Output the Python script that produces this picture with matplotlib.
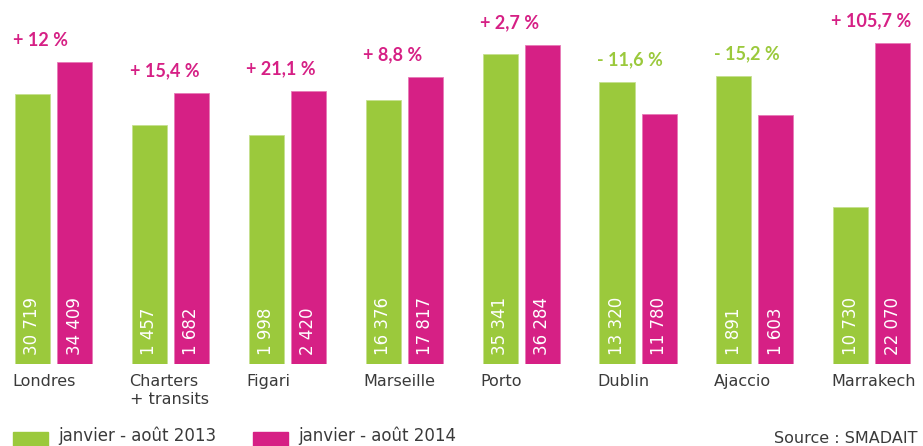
import numpy as np
import matplotlib.pyplot as plt
from matplotlib.patches import Rectangle

cities = ['Londres', 'Charters\n+ transits', 'Figari', 'Marseille', 'Porto', 'Dublin', 'Ajaccio', 'Marrakech']
pax_2013 = [30719, 1457, 1998, 16376, 35341, 13320, 1891, 10730]
pax_2014 = [34409, 1682, 2420, 17817, 36284, 11780, 1603, 22070]
evolution = ['+ 12 %', '+ 15,4 %', '+ 21,1 %', '+ 8,8 %', '+ 2,7 %', '- 11,6 %', '- 15,2 %', '+ 105,7 %']
# bar heights as drawn in the original (each city has its own scale)
height_2013 = [270, 239, 229, 264, 310, 282, 288, 157]
height_2014 = [302, 271, 273, 287, 319, 250, 249, 321]

green = '#9bc93c'
magenta = '#d62085'
grey = '#3a3a3a'

fig = plt.figure(figsize=(9.23, 4.46), dpi=100)
ax = fig.add_axes([0, 82 / 446, 1, 364 / 446])
ax.set_xlim(-0.458, 7.438)
ax.set_ylim(0, 364)
ax.axis('off')

x = np.arange(len(cities))
w = 0.30
off = 0.18
ax.bar(x - off, height_2013, w, color=green, edgecolor='#c6e08f', linewidth=0.6)
ax.bar(x + off, height_2014, w, color=magenta, edgecolor='#e77ab7', linewidth=0.6)

fmt = lambda v: f'{v:,}'.replace(',', ' ')
for i in range(len(cities)):
    ax.text(x[i] - off, 9, fmt(pax_2013[i]), rotation=90, ha='center', va='bottom',
            color='white', fontsize=12)
    ax.text(x[i] + off, 9, fmt(pax_2014[i]), rotation=90, ha='center', va='bottom',
            color='white', fontsize=12)
    col = green if evolution[i].startswith('-') else magenta
    top = max(height_2013[i], height_2014[i])
    ax.text(x[i] - off - w / 2 - 0.02, top + 22, evolution[i], ha='left', va='center',
            color=col, fontsize=13, fontweight='bold', family='Lato')
    ax.text(x[i] - off - w / 2 - 0.02, -10, cities[i], ha='left', va='top',
            color=grey, fontsize=11.5, linespacing=1.25)

# legend
fig.patches.append(Rectangle((13 / 923, 0), 35 / 923, 14 / 446,
                             transform=fig.transFigure, color=green))
fig.patches.append(Rectangle((253 / 923, 0), 35 / 923, 14 / 446,
                             transform=fig.transFigure, color=magenta))
fig.text(58 / 923, 1 / 446, 'janvier - août 2013', ha='left', va='bottom',
         color=grey, fontsize=12)
fig.text(298 / 923, 1 / 446, 'janvier - août 2014', ha='left', va='bottom',
         color=grey, fontsize=12)
fig.text(918 / 923, 3 / 446, 'Source : SMADAIT', ha='right', va='baseline',
         color=grey, fontsize=11.5)

fig.savefig('out.png', dpi=100)
